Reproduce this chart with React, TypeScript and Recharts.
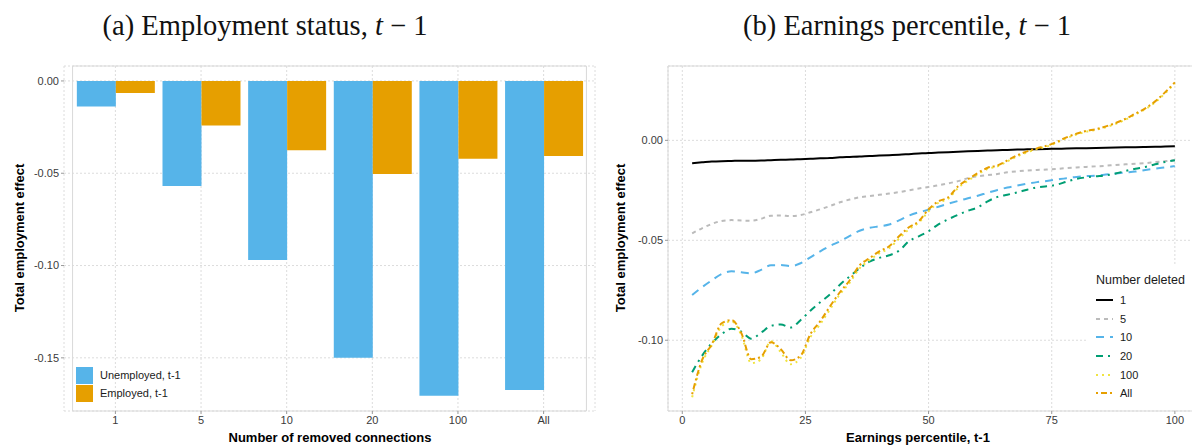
import React from 'react';
import {
  BarChart, Bar, LineChart, Line, XAxis, YAxis, CartesianGrid,
  ReferenceArea, Legend,
} from 'recharts';

// Panel (a): total employment effect by number of removed connections
const CATEGORIES = ['1', '5', '10', '20', '100', 'All'];
const UNEMPLOYED = [-0.0139, -0.0569, -0.097, -0.1499, -0.1705, -0.1674];
const EMPLOYED = [-0.0065, -0.0242, -0.0376, -0.0504, -0.0421, -0.0406];
const BAR_TICKS = [0, -0.05, -0.1, -0.15];

// Panel (b): effect along the earnings distribution
const PERCENTILES = [
  2, 4, 6, 8, 10, 12, 14, 16, 18, 20, 22, 24, 26, 28, 30, 32, 34, 36, 38, 40,
  42, 44, 46, 48, 50, 52, 54, 56, 58, 60, 62, 64, 66, 68, 70, 72, 74, 76, 78, 80,
  82, 84, 86, 88, 90, 92, 94, 96, 98, 100,
];
const DEL_1 = [
  -0.0114, -0.011, -0.0106, -0.0104, -0.0103, -0.0102, -0.0102, -0.0101, -0.0099, -0.0097,
  -0.0096, -0.0094, -0.0092, -0.009, -0.0088, -0.0085, -0.0083, -0.0081, -0.0078, -0.0076,
  -0.0074, -0.0072, -0.0069, -0.0066, -0.0063, -0.0061, -0.0059, -0.0057, -0.0055, -0.0053,
  -0.0051, -0.0049, -0.0048, -0.0046, -0.0045, -0.0044, -0.0043, -0.0042, -0.0041, -0.004,
  -0.0039, -0.0038, -0.0037, -0.0036, -0.0035, -0.0034, -0.0033, -0.0032, -0.0031, -0.003,
];
const DEL_5 = [
  -0.0465, -0.044, -0.0418, -0.0403, -0.0399, -0.0401, -0.0402, -0.0392, -0.0377, -0.0376,
  -0.0379, -0.0374, -0.036, -0.0345, -0.0328, -0.031, -0.0296, -0.0285, -0.0279, -0.0272,
  -0.0266, -0.0259, -0.025, -0.0241, -0.0233, -0.0225, -0.0215, -0.0204, -0.0189, -0.018,
  -0.0174, -0.0168, -0.016, -0.0155, -0.0151, -0.0148, -0.0146, -0.0143, -0.0139, -0.0136,
  -0.0133, -0.013, -0.0127, -0.0123, -0.012, -0.0117, -0.0114, -0.0109, -0.0104, -0.0099,
];
const DEL_10 = [
  -0.0774, -0.0735, -0.07, -0.0668, -0.0655, -0.066, -0.0665, -0.0648, -0.0625, -0.0624,
  -0.0629, -0.0615, -0.0585, -0.0555, -0.0528, -0.0505, -0.0478, -0.0452, -0.0438, -0.043,
  -0.0421, -0.04, -0.0377, -0.036, -0.0347, -0.0332, -0.0317, -0.0303, -0.029, -0.0277,
  -0.0262, -0.0248, -0.0236, -0.0226, -0.0217, -0.0209, -0.0203, -0.0196, -0.0189, -0.0183,
  -0.0179, -0.0176, -0.0171, -0.0166, -0.0161, -0.0156, -0.0148, -0.0141, -0.0135, -0.0129,
];
const DEL_20 = [
  -0.116, -0.1078, -0.1015, -0.097, -0.0942, -0.0957, -0.0992, -0.0962, -0.0928, -0.0921,
  -0.0936, -0.09, -0.0852, -0.081, -0.077, -0.0722, -0.068, -0.064, -0.0607, -0.0588,
  -0.0575, -0.0552, -0.0505, -0.048, -0.0455, -0.042, -0.0395, -0.0372, -0.0352, -0.0335,
  -0.0305, -0.0283, -0.0272, -0.026, -0.0247, -0.0235, -0.023, -0.0222, -0.0207, -0.0193,
  -0.0185, -0.018, -0.0175, -0.0166, -0.0153, -0.0142, -0.0133, -0.012, -0.0108, -0.0099,
];
const DEL_100 = [
  -0.1285, -0.1115, -0.1025, -0.093, -0.0905, -0.0975, -0.1115, -0.1095, -0.1005, -0.106,
  -0.112, -0.109, -0.0985, -0.092, -0.0845, -0.077, -0.0712, -0.064, -0.06, -0.0565,
  -0.054, -0.0492, -0.0445, -0.0412, -0.0355, -0.0312, -0.0292, -0.0238, -0.0202, -0.017,
  -0.0143, -0.013, -0.0105, -0.008, -0.006, -0.0044, -0.0031, -0.0012, 0.0011, 0.0029,
  0.0043, 0.0053, 0.0066, 0.0083, 0.0104, 0.013, 0.0156, 0.019, 0.0235, 0.0285,
];
const DEL_ALL = [
  -0.127, -0.11, -0.102, -0.0915, -0.0899, -0.0965, -0.1095, -0.1082, -0.101, -0.1045,
  -0.11, -0.1078, -0.097, -0.0905, -0.083, -0.076, -0.07, -0.0625, -0.059, -0.0555,
  -0.053, -0.048, -0.0435, -0.0405, -0.0345, -0.0305, -0.0285, -0.023, -0.0195, -0.0163,
  -0.0137, -0.0125, -0.01, -0.0075, -0.0055, -0.004, -0.0027, -0.0008, 0.0015, 0.0033,
  0.0047, 0.0056, 0.007, 0.0087, 0.0108, 0.0134, 0.016, 0.0195, 0.024, 0.029,
];
const PCT_TICKS = [0, 25, 50, 75, 100];
const LINE_TICKS = [0, -0.05, -0.1];

const SANS = '"Liberation Sans", Arial, Helvetica, sans-serif';
const SERIF = '"Liberation Serif", "Times New Roman", serif';
const GRID = '#dcdcdc';
const FRAME = '#d9d9d9';
const TICK_TEXT = { fontSize: 11, fill: '#3a3a3a', fontFamily: SANS };

const BAR_SERIES = [
  { key: 'unemployed', name: 'Unemployed, t-1', color: '#56B4E9' },
  { key: 'employed', name: 'Employed, t-1', color: '#E69F00' },
];

const LINE_SERIES = [
  { key: 'd1', name: '1', values: DEL_1, color: '#000000', dash: undefined },
  { key: 'd5', name: '5', values: DEL_5, color: '#BBBBBB', dash: '4 4' },
  { key: 'd10', name: '10', values: DEL_10, color: '#56B4E9', dash: '8 6' },
  { key: 'd20', name: '20', values: DEL_20, color: '#009E73', dash: '7 5 2 5' },
  { key: 'd100', name: '100', values: DEL_100, color: '#F0E442', dash: '2 4' },
  { key: 'dAll', name: 'All', values: DEL_ALL, color: '#E69F00', dash: '2 3 6 3' },
];

const barData = CATEGORIES.map((cat, i) => ({
  cat,
  unemployed: UNEMPLOYED[i],
  employed: EMPLOYED[i],
}));

const lineData = PERCENTILES.map((p, i) => {
  const row: Record<string, number> = { p };
  LINE_SERIES.forEach((s) => { row[s.key] = s.values[i]; });
  return row;
});

const fmt = (v: number) => v.toFixed(2);

// ggplot-like expansion: 0.6 of a category on each side of a discrete axis
const BAR_PLOT_W = 531;
const BAR_PAD = (BAR_PLOT_W / 6.2) * 0.1;
const BAR_Y_DOMAIN: [number, number] = [-0.1788, 0.0081];
const LINE_X_DOMAIN: [number, number] = [-2.9, 104.9];
const LINE_Y_DOMAIN: [number, number] = [-0.1354, 0.0372];

const BarLegend = () => (
  <div style={{ fontFamily: SANS, fontSize: 11, color: '#1a1a1a' }}>
    {BAR_SERIES.map((s) => (
      <div key={s.key} style={{ display: 'flex', alignItems: 'center', height: 18 }}>
        <div style={{ width: 17, height: 17, background: s.color, marginRight: 7 }} />
        <span>{s.name}</span>
      </div>
    ))}
  </div>
);

const LineLegend = () => (
  <div
    style={{
      fontFamily: SANS, fontSize: 11, color: '#1a1a1a', background: '#fff',
      width: 112, paddingTop: 4, paddingLeft: 8, paddingBottom: 6,
    }}
  >
    <div style={{ fontSize: 12.5, height: 21, lineHeight: '20px' }}>Number deleted</div>
    {LINE_SERIES.map((s) => (
      <div key={s.key} style={{ display: 'flex', alignItems: 'center', height: 18.6 }}>
        <svg width={17} height={10} style={{ marginRight: 7 }}>
          <line x1={0} x2={17} y1={5} y2={5} stroke={s.color} strokeWidth={2}
            strokeDasharray={s.dash} />
        </svg>
        <span>{s.name}</span>
      </div>
    ))}
  </div>
);

const textStyle: React.CSSProperties = {
  position: 'absolute', whiteSpace: 'nowrap', textAlign: 'center',
};

const Title = ({ cx, children }: { cx: number; children: React.ReactNode }) => (
  <div
    style={{
      ...textStyle, left: cx - 300, width: 600, top: 10, fontFamily: SERIF,
      fontSize: 28.5, color: '#111', lineHeight: '32px',
    }}
  >
    {children}
  </div>
);

const XLabel = ({ cx, text }: { cx: number; text: string }) => (
  <div
    style={{
      ...textStyle, left: cx - 200, width: 400, top: 430, fontFamily: SANS,
      fontSize: 13, fontWeight: 700, color: '#000', lineHeight: '16px',
    }}
  >
    {text}
  </div>
);

const YLabel = ({ cx, text }: { cx: number; text: string }) => (
  <div
    style={{
      ...textStyle, left: cx - 150, width: 300, top: 230, fontFamily: SANS,
      fontSize: 13, fontWeight: 700, color: '#000', lineHeight: '16px',
      transform: 'rotate(-90deg)',
    }}
  >
    {text}
  </div>
);

// centred/middle keeps the legend from claiming any plot space
const legendPlacement = { layout: 'vertical', align: 'center', verticalAlign: 'middle' } as const;

const App: React.FC = () => (
  <div
    style={{
      position: 'absolute', left: 0, top: 0, width: 1192, height: 446,
      overflow: 'hidden', background: '#fff',
    }}
  >
    <Title cx={265}>(a) Employment status, <i>t</i> − 1</Title>
    <Title cx={907}>(b) Earnings percentile, <i>t</i> − 1</Title>

    <div style={{ position: 'absolute', left: 0, top: 0 }}>
      <BarChart
        width={600}
        height={446}
        data={barData}
        margin={{ top: 66, right: 5, left: 14, bottom: 15 }}
        barCategoryGap="5%"
        barGap={0}
      >
        <CartesianGrid stroke={GRID} strokeDasharray="2 2" />
        <XAxis
          dataKey="cat"
          height={20}
          padding={{ left: BAR_PAD, right: BAR_PAD }}
          tick={TICK_TEXT}
          tickSize={3}
          tickLine={{ stroke: '#999' }}
          axisLine={false}
        />
        <YAxis
          width={50}
          domain={BAR_Y_DOMAIN}
          ticks={BAR_TICKS}
          tickFormatter={fmt}
          tick={TICK_TEXT}
          tickSize={3}
          tickLine={{ stroke: '#999' }}
          axisLine={false}
          allowDataOverflow
        />
        {BAR_SERIES.map((s) => (
          <Bar key={s.key} dataKey={s.key} name={s.name} fill={s.color}
            isAnimationActive={false} />
        ))}
        <ReferenceArea y1={BAR_Y_DOMAIN[0]} y2={BAR_Y_DOMAIN[1]} fill="none"
          stroke={FRAME} strokeWidth={1} />
        <Legend
          {...legendPlacement}
          content={<BarLegend />}
          wrapperStyle={{ position: 'absolute', left: 76, top: 366, width: 'auto' }}
        />
      </BarChart>
    </div>

    <div style={{ position: 'absolute', left: 600, top: 0 }}>
      <LineChart
        width={600}
        height={446}
        data={lineData}
        margin={{ top: 66, right: 1, left: 18, bottom: 15 }}
      >
        <CartesianGrid stroke={GRID} strokeDasharray="2 2" />
        <XAxis
          dataKey="p"
          type="number"
          domain={LINE_X_DOMAIN}
          ticks={PCT_TICKS}
          height={20}
          tick={TICK_TEXT}
          tickSize={3}
          tickLine={{ stroke: '#999' }}
          axisLine={false}
          allowDataOverflow
        />
        <YAxis
          width={50}
          domain={LINE_Y_DOMAIN}
          ticks={LINE_TICKS}
          tickFormatter={fmt}
          tick={TICK_TEXT}
          tickSize={3}
          tickLine={{ stroke: '#999' }}
          axisLine={false}
          allowDataOverflow
        />
        <ReferenceArea x1={LINE_X_DOMAIN[0]} x2={LINE_X_DOMAIN[1]}
          y1={LINE_Y_DOMAIN[0]} y2={LINE_Y_DOMAIN[1]} fill="none"
          stroke={FRAME} strokeWidth={1} />
        {LINE_SERIES.map((s) => (
          <Line
            key={s.key}
            type="monotone"
            dataKey={s.key}
            name={s.name}
            stroke={s.color}
            strokeWidth={2}
            strokeDasharray={s.dash}
            dot={false}
            isAnimationActive={false}
          />
        ))}
        <Legend
          {...legendPlacement}
          content={<LineLegend />}
          wrapperStyle={{ position: 'absolute', left: 488, top: 266, width: 'auto' }}
        />
      </LineChart>
    </div>

    <YLabel cx={20} text="Total employment effect" />
    <YLabel cx={621} text="Total employment effect" />
    <XLabel cx={330} text="Number of removed connections" />
    <XLabel cx={918} text="Earnings percentile, t-1" />
  </div>
);

export default App;
